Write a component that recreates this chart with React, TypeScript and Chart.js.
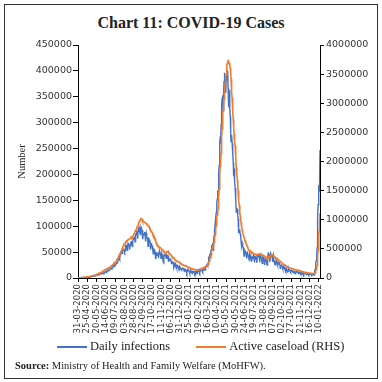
import { useEffect, useRef } from "react";
import { Chart, registerables } from "chart.js";

Chart.register(...registerables);

// ---- Data (daily, 31-03-2020 to 13-01-2022) ----
const chartTitle = "Chart 11: COVID-19 Cases";
const seriesNames = ["Daily infections", "Active caseload (RHS)"];
const seriesColors = ["#4472C4", "#ED7D31"];
const yAxisTitle = "Number";
const sourceLabel = "Source:";
const sourceText = " Ministry of Health and Family Welfare (MoHFW).";

// x-axis tick labels, one every 25 days
const tickLabels = [
  "31-03-2020", "25-04-2020", "20-05-2020", "14-06-2020", "09-07-2020", "03-08-2020",
  "28-08-2020", "22-09-2020", "17-10-2020", "11-11-2020", "06-12-2020", "31-12-2020",
  "25-01-2021", "19-02-2021", "16-03-2021", "10-04-2021", "05-05-2021", "30-05-2021",
  "24-06-2021", "19-07-2021", "13-08-2021", "07-09-2021", "02-10-2021", "27-10-2021",
  "21-11-2021", "16-12-2021", "10-01-2022",
];
const tickIntervalDays = 25;

const leftTicks = { min: 0, max: 450000, step: 50000 };
const rightTicks = { min: 0, max: 4000000, step: 500000 };

// Daily infections, thousands
const dailyInfectionsK = [
  0.3,
  // Apr 2020
  0.6, 0.5, 0.6, 0.6, 0.5, 0.7, 0.5, 0.6, 0.8, 0.9, 0.9, 0.9, 0.8, 1.0, 1.1, 1.0, 1.0, 1.3, 1.4, 1.5, 1.2, 1.5, 1.7, 1.7, 1.8, 1.9, 1.4, 1.6, 1.9, 1.8,
  // May
  2.4, 2.3, 2.6, 3.9, 2.6, 3.9, 3.6, 3.4, 3.3, 4.2, 3.6, 3.5, 3.7, 3.7, 3.9, 4.8, 5.0, 4.6, 5.2, 5.6, 5.6, 6.1, 6.7, 6.8, 6.9, 6.5, 6.4, 7.0, 7.5, 7.9, 8.4,
  // Jun
  8.2, 8.2, 8.9, 9.3, 9.9, 9.9, 9.9, 9.9, 9.0, 10.0, 11.0, 11.5, 11.9, 11.9, 11.5, 10.7, 12.9, 12.9, 13.6, 15.4, 15.4, 14.8, 14.9, 16.0, 17.0, 18.6, 18.5, 19.9, 19.5, 18.5,
  // Jul
  19.1, 20.9, 22.7, 24.0, 24.9, 24.2, 22.3, 25.0, 24.9, 27.1, 27.0, 28.6, 28.7, 28.5, 29.4, 32.7, 34.9, 34.9, 38.9, 40.4, 37.1, 37.7, 45.7, 49.3, 48.9, 48.7, 49.9, 47.7, 48.5, 52.1, 55.1,
  // Aug
  57.1, 54.7, 52.9, 50.6, 52.5, 56.3, 62.5, 61.5, 64.4, 62.1, 53.6, 60.9, 66.9, 64.6, 65.0, 63.5, 57.9, 55.1, 64.5, 69.7, 68.9, 69.9, 69.2, 61.4, 60.9, 67.2, 75.8, 77.3, 76.5, 78.8, 78.5,
  // Sep
  69.9, 78.4, 83.9, 83.3, 86.4, 90.6, 90.8, 75.8, 89.7, 95.7, 96.6, 97.6, 94.4, 92.1, 83.8, 90.1, 97.9, 96.4, 93.3, 92.6, 86.9, 75.1, 83.3, 86.5, 86.1, 85.4, 88.6, 82.2, 70.6, 80.5,
  // Oct
  86.8, 81.5, 79.5, 75.8, 74.4, 61.3, 72.0, 78.5, 70.5, 73.3, 74.4, 66.7, 55.3, 63.5, 67.7, 63.4, 62.2, 61.9, 55.7, 46.8, 54.0, 55.8, 54.4, 53.4, 50.1, 45.1, 36.5, 43.9, 49.9, 48.6, 48.3,
  // Nov
  46.9, 45.2, 38.3, 46.3, 50.2, 47.6, 50.4, 45.7, 45.9, 38.1, 44.3, 47.9, 44.9, 44.7, 41.1, 30.5, 29.2, 38.6, 45.6, 46.0, 46.2, 45.2, 44.1, 37.9, 44.4, 44.5, 43.1, 41.3, 41.8, 38.8,
  // Dec
  31.1, 36.6, 35.6, 36.6, 36.7, 36.0, 32.9, 26.6, 32.1, 31.5, 29.4, 30.0, 30.3, 27.1, 22.1, 26.4, 24.0, 22.9, 25.2, 26.6, 24.3, 19.6, 23.9, 24.7, 23.1, 22.3, 18.7, 20.0, 16.4, 20.5, 21.8,
  // Jan 2021
  20.0, 19.1, 18.2, 16.5, 16.4, 18.1, 20.3, 18.1, 18.2, 18.6, 16.3, 12.6, 15.9, 16.9, 15.6, 15.2, 15.1, 13.8, 10.1, 13.8, 15.2, 14.5, 14.3, 14.8, 13.2, 9.1, 12.7, 11.7, 18.9, 13.1, 13.1,
  // Feb
  11.4, 8.6, 11.0, 12.9, 12.4, 11.7, 12.1, 11.8, 9.1, 11.1, 12.9, 9.3, 12.1, 11.6, 12.2, 9.1, 11.6, 12.9, 13.2, 13.9, 14.3, 14.2, 10.6, 13.7, 16.7, 16.6, 16.5, 16.8,
  // Mar
  15.5, 12.3, 14.9, 17.4, 16.8, 18.3, 18.7, 18.6, 15.4, 17.9, 22.9, 23.3, 24.9, 25.3, 26.3, 24.5, 28.9, 35.9, 39.7, 40.9, 43.8, 46.9, 40.7, 47.3, 53.5, 59.1, 62.3, 62.7, 68.0, 56.2, 53.5,
  // Apr
  72.3, 81.5, 89.1, 93.2, 103.6, 96.9, 115.7, 126.8, 131.9, 145.4, 152.9, 168.9, 161.7, 184.4, 200.7, 217.4, 234.7, 261.5, 273.8, 259.2, 295.0, 314.8, 332.7, 346.8, 349.7, 352.9, 323.1, 360.9, 379.3, 386.5,
  // May
  396.4, 389.5, 368.1, 357.2, 382.3, 398.3, 401.2, 396.1, 399.7, 366.2, 329.9, 348.4, 362.7, 343.1, 326.1, 311.2, 281.4, 263.5, 267.3, 276.1, 259.6, 257.3, 240.8, 222.3, 196.4, 208.9, 211.3, 186.4, 173.8, 165.6, 152.7,
  // Jun
  127.5, 132.8, 134.2, 132.4, 120.5, 114.5, 100.6, 86.5, 92.6, 94.1, 91.7, 84.3, 80.8, 70.4, 60.5, 62.2, 67.2, 62.5, 60.8, 58.4, 53.3, 42.6, 50.8, 54.1, 51.7, 48.7, 50.0, 46.1, 37.6, 45.9,
  // Jul
  48.8, 46.6, 44.1, 43.1, 39.8, 34.7, 43.7, 45.9, 43.4, 42.8, 41.5, 37.2, 31.4, 38.8, 41.8, 38.9, 38.1, 41.2, 38.2, 30.1, 42.0, 41.4, 35.3, 39.1, 39.7, 39.4, 29.7, 43.7, 43.5, 44.2, 41.6,
  // Aug
  41.8, 40.1, 30.5, 42.6, 42.9, 44.6, 38.6, 39.1, 35.5, 28.2, 38.4, 41.2, 40.1, 38.7, 36.1, 32.9, 25.2, 35.2, 36.4, 36.6, 34.5, 30.9, 25.1, 25.5, 37.6, 46.2, 44.7, 46.8, 45.1, 42.9, 30.9,
  // Sep
  41.9, 47.1, 45.4, 42.6, 42.8, 38.9, 31.2, 37.9, 43.3, 34.9, 33.4, 28.6, 27.3, 25.4, 27.2, 30.6, 34.4, 35.7, 30.8, 30.3, 26.1, 26.9, 31.9, 31.4, 29.6, 28.3, 26.0, 18.8, 23.5, 23.5,
  // Oct
  26.7, 24.4, 22.8, 20.8, 18.3, 18.8, 22.4, 21.3, 19.7, 18.2, 18.1, 14.3, 15.8, 18.9, 16.9, 15.9, 14.1, 13.6, 13.1, 14.6, 18.5, 15.8, 16.3, 15.0, 14.3, 12.4, 13.5, 16.2, 14.3, 14.3, 12.8,
  // Nov
  12.5, 10.4, 11.9, 12.9, 12.9, 10.9, 11.5, 11.5, 10.1, 11.5, 13.1, 12.5, 11.9, 11.3, 10.2, 8.9, 10.2, 11.9, 11.1, 10.3, 11.0, 8.5, 7.6, 9.3, 9.1, 10.5, 8.3, 8.8, 8.3, 6.9,
  // Dec
  8.9, 9.8, 9.2, 8.6, 8.9, 8.3, 6.8, 8.4, 9.4, 8.5, 7.9, 7.8, 7.3, 5.8, 7.0, 7.9, 7.4, 7.1, 7.1, 6.6, 5.3, 6.3, 7.5, 6.7, 7.2, 7.0, 6.5, 6.4, 9.2, 13.2, 16.8,
  // Jan 2022
  22.8, 27.6, 33.8, 37.4, 58.1, 90.9, 117.1, 141.9, 159.6, 179.7, 168.1, 194.7, 247.4,
];

// Active caseload, thousands
const activeCaseloadK = [
  1.4,
  // Apr 2020
  1.8, 2.1, 2.6, 3.0, 3.4, 3.9, 4.3, 4.8, 5.1, 5.7, 6.6, 7.4, 8.0, 8.9, 9.8, 10.5, 11.2, 11.6, 12.9, 14.2, 14.8, 15.5, 16.5, 17.6, 18.7, 19.9, 20.8, 21.6, 22.6, 23.7,
  // May
  25.0, 26.5, 28.0, 29.5, 32.1, 33.5, 35.9, 37.9, 39.8, 41.5, 43.0, 44.0, 46.0, 47.5, 49.2, 51.4, 53.0, 56.3, 58.8, 61.1, 63.6, 66.3, 69.6, 73.6, 77.1, 80.7, 83.0, 86.1, 86.4, 89.9, 89.9,
  // Jun
  93.3, 97.6, 101.5, 106.7, 110.9, 115.9, 120.4, 125.4, 129.2, 133.6, 137.4, 141.8, 146.0, 149.3, 153.1, 153.2, 155.2, 160.4, 163.2, 168.3, 169.5, 174.4, 178.0, 183.0, 186.5, 189.5, 197.4, 203.1, 210.1, 215.1,
  // Jul
  220.1, 226.9, 227.4, 235.4, 244.0, 253.3, 259.6, 264.9, 269.8, 276.7, 283.4, 292.3, 301.6, 311.6, 319.8, 331.1, 342.5, 358.7, 373.4, 390.5, 402.5, 411.1, 426.2, 440.1, 456.1, 467.9, 485.1, 497.0, 509.4, 528.2, 545.3,
  // Aug
  565.1, 579.4, 585.6, 587.7, 595.5, 607.4, 619.1, 628.7, 634.9, 639.9, 643.9, 653.6, 661.6, 668.2, 668.1, 673.2, 676.9, 676.5, 673.2, 692.0, 697.3, 707.3, 705.0, 704.3, 710.8, 704.3, 725.9, 742.0, 752.4, 765.3, 785.9,
  // Sep
  801.3, 803.3, 815.5, 831.1, 846.4, 862.3, 883.7, 886.4, 897.4, 919.0, 943.5, 962.6, 970.9, 986.6, 990.1, 1004.0, 1017.8, 1014.0, 1017.8, 1010.8, 996.0, 975.9, 968.4, 966.4, 970.1, 961.0, 956.4, 952.0, 947.6, 940.4,
  // Oct
  940.7, 937.6, 934.4, 919.0, 907.9, 906.9, 896.6, 893.6, 882.5, 867.5, 851.2, 838.7, 826.4, 812.4, 812.4, 795.1, 783.3, 772.1, 749.6, 746.6, 733.8, 719.0, 702.1, 686.9, 668.2, 661.9, 633.2, 610.8, 598.1, 586.3, 570.5,
  // Nov
  561.9, 553.3, 541.4, 533.8, 532.5, 533.8, 527.4, 520.8, 517.1, 509.7, 494.7, 492.9, 484.5, 479.2, 477.7, 478.1, 465.5, 453.4, 443.8, 444.7, 443.8, 443.0, 443.5, 439.7, 438.7, 441.0, 452.3, 453.9, 459.9, 443.5,
  // Dec
  435.6, 428.6, 420.1, 417.8, 410.4, 403.2, 396.7, 380.4, 372.3, 365.2, 359.8, 356.5, 354.9, 353.4, 340.1, 335.1, 327.6, 313.8, 307.2, 303.6, 300.4, 292.5, 289.2, 285.5, 282.4, 284.0, 286.0, 280.2, 277.3, 268.6, 262.3,
  // Jan 2021
  257.7, 254.3, 250.2, 246.6, 238.0, 232.3, 228.1, 227.5, 225.5, 222.5, 218.0, 215.5, 213.0, 213.6, 214.0, 210.0, 208.8, 205.9, 200.5, 197.2, 188.7, 185.7, 184.4, 184.2, 184.4, 178.0, 173.7, 171.7, 169.8, 168.2, 168.0,
  // Feb
  163.4, 160.1, 157.0, 155.0, 154.8, 151.5, 148.6, 148.8, 145.6, 142.6, 143.1, 142.1, 137.6, 136.5, 137.3, 139.5, 139.0, 140.0, 143.1, 143.1, 145.6, 147.3, 150.1, 149.0, 151.7, 153.1, 159.6, 164.5,
  // Mar
  168.4, 168.2, 169.3, 173.4, 176.3, 180.3, 184.6, 188.7, 187.5, 184.5, 189.2, 196.2, 205.1, 210.5, 219.3, 224.0, 234.4, 252.4, 271.3, 288.4, 309.1, 334.6, 345.4, 368.5, 395.2, 421.1, 452.6, 484.0, 521.8, 540.7, 552.6,
  // Apr
  584.1, 614.7, 640.5, 691.6, 743.4, 788.2, 843.5, 910.3, 979.6, 1043.2, 1079.9, 1120.4, 1201.1, 1364.1, 1438.7, 1529.7, 1666.0, 1801.3, 1929.3, 2031.9, 2142.3, 2291.4, 2428.6, 2562.2, 2691.0, 2812.7, 2883.4, 2974.1, 3079.0, 3168.5,
  // May
  3261, 3339, 3412, 3448, 3487, 3569, 3650, 3685, 3718, 3730, 3712, 3706, 3695, 3690, 3643, 3600, 3529, 3416, 3287, 3183, 3084, 2948, 2843, 2727, 2587, 2480, 2425, 2328, 2273, 2213, 2089,
  // Jun
  1895, 1826, 1755, 1683, 1598, 1502, 1422, 1333, 1255, 1191, 1126, 1055, 996, 951, 929, 869, 830, 801, 772, 737, 718, 697, 673, 664, 640, 630, 627, 584, 578, 560,
  // Jul
  540, 532, 507, 487, 485, 466, 460, 455, 459, 461, 455, 445, 432, 436, 432, 429, 425, 422, 409, 406, 408, 409, 408, 407, 408, 404, 398, 404, 403, 407, 412,
  // Aug
  410, 410, 404, 409, 410, 414, 411, 410, 404, 389, 388, 387, 386, 389, 385, 381, 365, 364, 361, 359, 357, 354, 342, 334, 333, 342, 353, 364, 371, 373, 370,
  // Sep
  376, 389, 398, 404, 405, 404, 394, 391, 388, 386, 378, 373, 367, 358, 347, 336, 339, 341, 339, 331, 323, 312, 310, 305, 302, 298, 292, 285, 279, 272,
  // Oct
  270, 265, 258, 249, 246, 237, 233, 231, 226, 230, 224, 215, 208, 205, 201, 197, 195, 190, 185, 184, 181, 179, 177, 174, 173, 172, 168, 165, 163, 160, 161,
  // Nov
  159, 153, 149, 148, 146, 144, 145, 142, 140, 138, 137, 137, 138, 137, 136, 134, 129, 128, 128, 124, 124, 122, 119, 114, 112, 111, 109, 110, 108, 102,
  // Dec
  99, 99, 98, 99, 99, 94, 93, 91, 94, 94, 93, 91, 89, 86, 87, 86, 86, 84, 83, 82, 79, 78, 78, 77, 78, 77, 77, 77, 79, 82, 92,
  // Jan 2022
  105, 121, 145, 171, 214, 286, 371, 473, 591, 723, 822, 955, 1117,
];

const sansFont = "'DejaVu Sans', sans-serif";
const serifFont = "'Liberation Serif', 'Times New Roman', serif";
const tickColor = "#333333";

export default function App() {
  const canvasRef = useRef<HTMLCanvasElement | null>(null);

  useEffect(() => {
    if (!canvasRef.current) return;
    const toPoints = (arr: number[]) => arr.map((v, i) => ({ x: i, y: v * 1000 }));
    const chart = new Chart(canvasRef.current, {
      type: "line",
      data: {
        datasets: [
          {
            label: seriesNames[0],
            data: toPoints(dailyInfectionsK),
            borderColor: seriesColors[0],
            backgroundColor: seriesColors[0],
            borderWidth: 1.4,
            pointRadius: 0,
            tension: 0,
            yAxisID: "y",
            order: 1,
          },
          {
            label: seriesNames[1],
            data: toPoints(activeCaseloadK),
            borderColor: seriesColors[1],
            backgroundColor: seriesColors[1],
            borderWidth: 1.6,
            pointRadius: 0,
            tension: 0,
            yAxisID: "y1",
            order: 0,
          },
        ],
      },
      options: {
        responsive: false,
        animation: false,
        events: [],
        layout: { padding: { left: 0, right: 0, top: 45, bottom: 40 } },
        plugins: {
          legend: { display: false },
          tooltip: { enabled: false },
          title: { display: false },
        },
        scales: {
          x: {
            type: "linear",
            min: 0,
            max: dailyInfectionsK.length - 1,
            afterBuildTicks: (scale: any) => {
              scale.ticks = tickLabels.map((_, i) => ({ value: i * tickIntervalDays }));
            },
            afterFit: (scale: any) => {
              scale.height = 64;
            },
            ticks: {
              autoSkip: false,
              minRotation: 90,
              maxRotation: 90,
              padding: 2,
              color: tickColor,
              font: { family: sansFont, size: 8.5 },
              callback: (v: any) => tickLabels[Math.round(Number(v) / tickIntervalDays)] ?? "",
            },
            grid: { drawOnChartArea: false, drawTicks: true, tickLength: 4, color: "#000" },
            border: { display: true, color: "#000", width: 1 },
          },
          y: {
            position: "left",
            min: leftTicks.min,
            max: leftTicks.max,
            afterFit: (scale: any) => {
              scale.width = 78;
            },
            ticks: {
              stepSize: leftTicks.step,
              padding: 1,
              color: tickColor,
              font: { family: sansFont, size: 9.5 },
              callback: (v: any) => String(v),
            },
            grid: { drawOnChartArea: false, drawTicks: true, tickLength: 5, color: "#000" },
            border: { display: true, color: "#000", width: 1 },
            title: {
              display: true,
              text: yAxisTitle,
              color: "#222",
              font: { family: serifFont, size: 10.5 },
              padding: { top: 16, bottom: 0 },
            },
          },
          y1: {
            position: "right",
            min: rightTicks.min,
            max: rightTicks.max,
            afterFit: (scale: any) => {
              scale.width = 62;
            },
            ticks: {
              stepSize: rightTicks.step,
              padding: 2,
              color: tickColor,
              font: { family: sansFont, size: 9.5 },
              callback: (v: any) => String(v),
            },
            grid: { drawOnChartArea: false, drawTicks: true, tickLength: 4, color: "#000" },
            border: { display: true, color: "#000", width: 1 },
          },
        },
      },
    });
    return () => chart.destroy();
  }, []);

  return (
    <div style={{ position: "fixed", left: 0, top: 0, width: 382, height: 382, background: "#fff" }}>
      <div
        style={{
          position: "absolute",
          left: 4,
          top: 4,
          width: 374,
          height: 375,
          border: "1px solid #333",
          boxSizing: "border-box",
        }}
      />
      <div
        style={{
          position: "absolute",
          left: 0,
          top: 13,
          width: 382,
          textAlign: "center",
          fontFamily: serifFont,
          fontWeight: "bold",
          fontSize: 16,
          lineHeight: "20px",
          color: "#222",
        }}
      >
        {chartTitle}
      </div>
      <canvas ref={canvasRef} width={382} height={382} style={{ position: "absolute", left: 0, top: 0 }} />
      <div
        style={{
          position: "absolute",
          left: 57,
          top: 339,
          display: "flex",
          alignItems: "center",
          fontFamily: serifFont,
          fontSize: 12.5,
          lineHeight: "15px",
          color: "#222",
          whiteSpace: "nowrap",
        }}
      >
        {seriesNames.map((name, i) => (
          <div key={name} style={{ display: "flex", alignItems: "center", marginRight: i === 0 ? 26 : 0 }}>
            <span style={{ display: "inline-block", width: 30, height: 2, background: seriesColors[i], marginRight: 3 }} />
            <span>{name}</span>
          </div>
        ))}
      </div>
      <div
        style={{
          position: "absolute",
          left: 15,
          top: 359,
          fontFamily: serifFont,
          fontSize: 10.5,
          lineHeight: "13px",
          color: "#222",
          whiteSpace: "nowrap",
        }}
      >
        <b>{sourceLabel}</b>
        {sourceText}
      </div>
    </div>
  );
}
